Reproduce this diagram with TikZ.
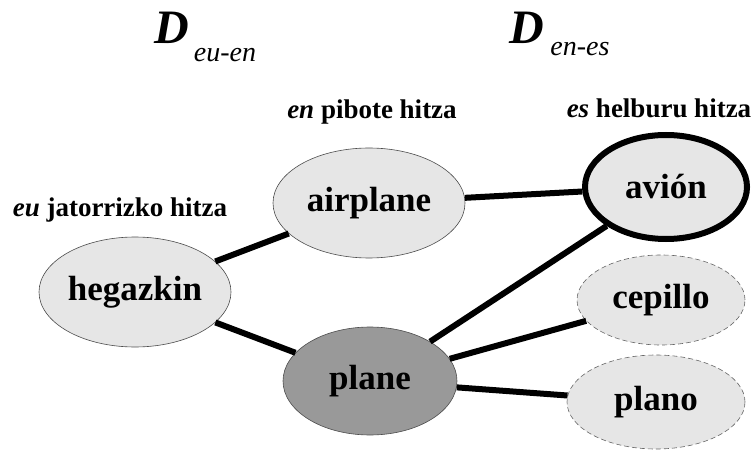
\documentclass[tikz,border=0pt]{standalone}
\usepackage{fontspec}
\setmainfont{Liberation Serif}
\usetikzlibrary{shapes.geometric}

\definecolor{wordfill}{HTML}{E6E6E6}
\definecolor{pivotfill}{HTML}{999999}

\begin{document}
\begin{tikzpicture}[x=1pt,y=-1pt,
  word/.style={ellipse,draw=black!70,line width=.6pt,fill=wordfill,inner sep=0pt,
    font=\fontsize{35}{36}\selectfont\bfseries},
  cand/.style={word,draw=black!60,dash pattern=on 5pt off 3pt},
  side/.style={font=\fontsize{27}{30}\selectfont\bfseries},
  link/.style={line width=6pt}]
\useasboundingbox (0,0) rectangle (754,454);
% dictionary titles
\node[font=\fontsize{48}{50}\selectfont\bfseries\itshape] (d1) at (172,28) {D};
\node[font=\fontsize{28}{30}\selectfont\itshape] (d1sub) at (225,55) {eu-en};
\node[font=\fontsize{48}{50}\selectfont\bfseries\itshape] (d2) at (527,28) {D};
\node[font=\fontsize{28}{30}\selectfont\itshape] (d2sub) at (580,49) {en-es};
% column headings
\node[side] (hsrc) at (120,210) {\textit{eu} jatorrizko hitza};
\node[side] (hpiv) at (372,112) {\textit{en} pibote hitza};
\node[side] (htgt) at (659,108) {\textit{es} helburu hitza};
% words
\node[word,minimum width=192pt,minimum height=110pt] (hegazkin) at (135,292) {hegazkin};
\node[word,minimum width=192pt,minimum height=110pt] (airplane) at (369,203) {airplane};
\node[word,fill=pivotfill,minimum width=174pt,minimum height=108pt] (plane) at (370,381) {plane};
\node[word,draw=black,line width=6pt,minimum width=162pt,minimum height=104pt] (avion) at (666,187) {avión};
\node[cand,minimum width=168pt,minimum height=90pt] (cepillo) at (661,300) {cepillo};
\node[cand,minimum width=178pt,minimum height=94pt] (plano) at (656,402) {plano};
% translations
\draw[link] (hegazkin) -- (airplane);
\draw[link] (hegazkin) -- (plane);
\draw[link] (airplane) -- (avion);
\draw[link] (plane) -- (avion);
\draw[link] (plane) -- (cepillo);
\draw[link] (plane) -- (plano);
\end{tikzpicture}
\end{document}
